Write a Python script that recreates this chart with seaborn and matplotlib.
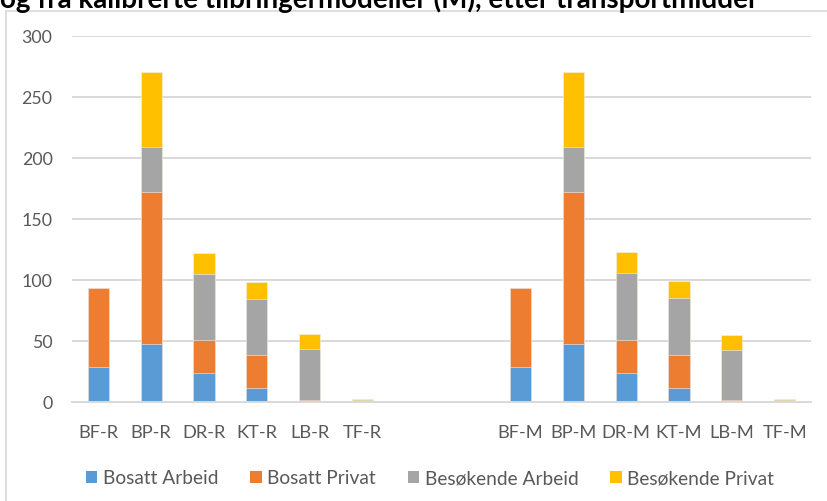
import matplotlib
matplotlib.use("Agg")
import matplotlib.pyplot as plt
from matplotlib.patches import Patch
from matplotlib.lines import Line2D
import numpy as np
import pandas as pd
import seaborn as sns

# ---- data ----
categories = ["BF-R", "BP-R", "DR-R", "KT-R", "LB-R", "TF-R",
              " ", "  ",
              "BF-M", "BP-M", "DR-M", "KT-M", "LB-M", "TF-M"]
data_categories = ["BF-R", "BP-R", "DR-R", "KT-R", "LB-R", "TF-R",
                   "BF-M", "BP-M", "DR-M", "KT-M", "LB-M", "TF-M"]
bosatt_arbeid = [29, 47.5, 24, 11.5, 0.3, 0.2,
                 29, 47.5, 24, 11.5, 0.3, 0.2]
bosatt_privat = [64.5, 125, 27, 27, 1.5, 0.9,
                 64.5, 124.5, 27, 27, 1.1, 0.9]
besokende_arbeid = [0, 36.5, 54, 46, 42, 0.8,
                    0, 36.8, 55, 46.4, 41.2, 0.8]
besokende_privat = [0, 61.8, 17.5, 14, 12.3, 0.5,
                    0, 61.8, 17.2, 14.3, 12.0, 0.5]
series_names = ["Bosatt Arbeid", "Bosatt Privat", "Besøkende Arbeid", "Besøkende Privat"]
colors = ["#5B9BD5", "#ED7D31", "#A5A5A5", "#FFC000"]
title = "og fra kalibrerte tilbringermodeller (M), etter transportmiddel"
yticks = [0, 50, 100, 150, 200, 250, 300]

# ---- build cumulative layers (overlay stacking) ----
layers = [bosatt_arbeid, bosatt_privat, besokende_arbeid, besokende_privat]
cum = np.cumsum(np.array(layers, dtype=float), axis=0)
rows = []
for i, name in enumerate(series_names):
    for c, v in zip(data_categories, cum[i]):
        rows.append({"cat": c, "value": v, "layer": name})
df = pd.DataFrame(rows)

sns.set_theme(style="white")
plt.rcParams["font.family"] = ["Lato", "DejaVu Sans"]
text_color = "#595959"
grid_color = "#D9D9D9"

fig = plt.figure(figsize=(8.27, 5.02), dpi=100)
ax = fig.add_axes([72 / 827, 1 - 403 / 502, (811 - 72) / 827, (403 - 37) / 502])

hue_order = series_names[::-1]
palette = dict(zip(series_names, colors))
sns.barplot(data=df, x="cat", y="value", hue="layer", hue_order=hue_order,
            order=categories, palette=palette, dodge=False, width=0.4,
            saturation=1, edgecolor="#F2F2F2", linewidth=0.4, legend=False,
            errorbar=None, ax=ax)

ax.set_ylim(0, 300)
ax.set_xlim(-0.5, len(categories) - 0.5)
ax.set_yticks(yticks)
ax.set_yticklabels([str(t) for t in yticks])
ax.yaxis.grid(True, color=grid_color, linewidth=1.4)
ax.set_axisbelow(True)
for s in ["top", "right", "left"]:
    ax.spines[s].set_visible(False)
ax.spines["bottom"].set_color(grid_color)
ax.spines["bottom"].set_linewidth(1.4)
ax.set_xlabel("")
ax.set_ylabel("")
ax.tick_params(axis="y", length=0, pad=14, labelsize=12.8, labelcolor=text_color)
ax.tick_params(axis="x", length=0, pad=16, labelsize=13.2, labelcolor=text_color)

# legend
handles = [Patch(facecolor=c, edgecolor="none", label=n) for n, c in zip(series_names, colors)]
fig.legend(handles=handles, loc="center", bbox_to_anchor=(430 / 827, 1 - 479 / 502),
           ncol=4, frameon=False, fontsize=13.8, labelcolor=text_color,
           handlelength=0.6, handleheight=0.6, handletextpad=0.3,
           columnspacing=1.65, borderaxespad=0)

# title (cut off at top, as in the source image)
fig.text(0.0, 1 - 8 / 502, title, fontsize=20, fontweight="bold", color="black",
         va="baseline", ha="left")

# chart border (left and top edges visible)
fig.add_artist(Line2D([6 / 827, 6 / 827], [0, 1 - 12 / 502], transform=fig.transFigure,
                      color=grid_color, linewidth=1.2))
fig.add_artist(Line2D([6 / 827, 1], [1 - 12 / 502, 1 - 12 / 502], transform=fig.transFigure,
                      color=grid_color, linewidth=1.2))

fig.savefig("out.png", dpi=100)
